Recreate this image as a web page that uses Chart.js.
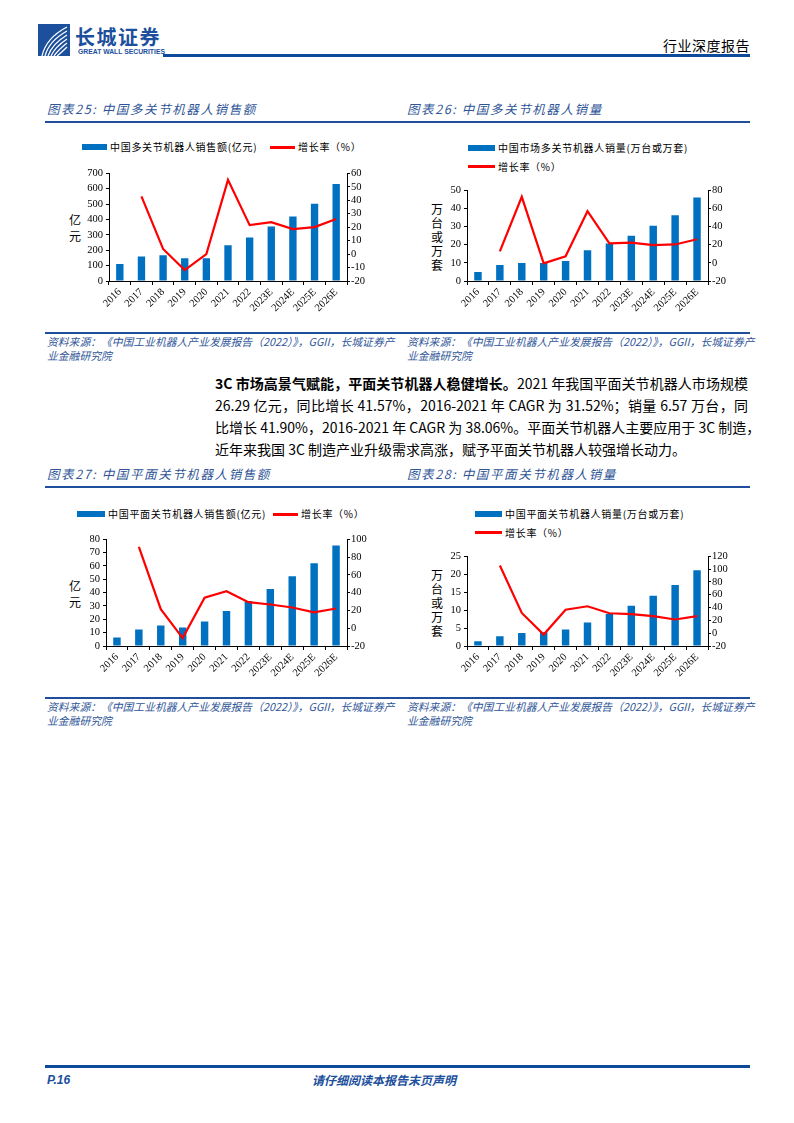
<!DOCTYPE html>
<html>
<head>
<meta charset="utf-8">
<script src="https://cdn.jsdelivr.net/npm/chart.js@4/dist/chart.umd.min.js"></script>
<style>
  html, body { margin:0; padding:0; background:#fff; }
  body { width:794px; height:1123px; position:relative; overflow:hidden;
         font-family:"Noto Sans CJK SC", "Noto Sans", sans-serif; color:#000; }
  .abs { position:absolute; white-space:nowrap; }
  .hline { position:absolute; background:#1F4E9C; }
  .title { position:absolute; font-size:12.5px; font-style:italic; color:#2F5597;
           letter-spacing:1.6px; line-height:16px; white-space:nowrap; }
  .src { position:absolute; font-size:10.8px; font-style:italic; color:#2F5597;
         line-height:14px; letter-spacing:0px; white-space:nowrap; }
  .lg { position:absolute; font-size:10px; letter-spacing:0.7px; line-height:12px; white-space:nowrap; }
  .sw-bar { position:absolute; height:6px; background:#0070C0; }
  .sw-line { position:absolute; height:2.5px; background:#FF0000; }
  .ytitle { position:absolute; font-size:12px; text-align:center; width:16px; }
  .para div { height:22px; line-height:22px; font-size:14px; text-align:justify; text-align-last:justify; white-space:nowrap; }
  .para div.last { text-align-last:left; }
  canvas { position:absolute; }
</style>
</head>
<body>

<!-- header -->
<svg class="abs" style="left:38px;top:24px" width="32" height="32" viewBox="0 0 32 32">
  <rect width="32" height="32" fill="#1C4F9C"/>
  <g fill="none" stroke="#fff" stroke-width="1.3">
    <path d="M4,32 Q8,14 29,3"/>
    <path d="M7,32 Q11,17 29,7"/>
    <path d="M10,32 Q14,20 29,11"/>
    <path d="M13,32 Q17,23 29,15"/>
    <path d="M16,32 Q20,26 29,19"/>
    <path d="M19,32 Q23,29 29,23"/>
  </g>
</svg>
<div class="abs" style="left:75px;top:25px;font-size:20px;font-weight:bold;color:#1C4F9C;letter-spacing:1.5px;line-height:24px">长城证券</div>
<div class="abs" style="left:78px;top:48px;font-family:'Liberation Sans',sans-serif;font-size:6.8px;font-weight:bold;color:#1C4F9C;line-height:8px">GREAT WALL SECURITIES</div>
<div class="hline" style="left:163px;top:54px;width:587px;height:3px;background:#0C4A9C"></div>
<div class="abs" style="right:44px;top:36px;font-size:14px;line-height:18px;letter-spacing:0.5px">行业深度报告</div>

<!-- top row titles -->
<div class="title" style="left:47px;top:101px">图表25: 中国多关节机器人销售额</div>
<div class="title" style="left:407px;top:101px">图表26: 中国多关节机器人销量</div>
<div class="hline" style="left:45px;top:121px;width:705px;height:1.5px"></div>

<!-- chart 1 legend -->
<div class="sw-bar" style="left:82px;top:144px;width:25px"></div>
<div class="lg" style="left:110px;top:141px">中国多关节机器人销售额(亿元)</div>
<div class="sw-line" style="left:270px;top:146px;width:25px"></div>
<div class="lg" style="left:298px;top:141px">增长率（%）</div>
<div class="ytitle" style="left:67px;top:212px;line-height:16px">亿<br>元</div>
<canvas id="c1"></canvas>

<!-- chart 2 legend -->
<div class="sw-bar" style="left:468px;top:145px;width:27px"></div>
<div class="lg" style="left:498px;top:142px">中国市场多关节机器人销量(万台或万套)</div>
<div class="sw-line" style="left:468px;top:165px;width:27px"></div>
<div class="lg" style="left:498px;top:161px">增长率（%）</div>
<div class="ytitle" style="left:429px;top:202px;line-height:14px">万<br>台<br>或<br>万<br>套</div>
<canvas id="c2"></canvas>

<div class="hline" style="left:45px;top:332px;width:705px;height:1.5px"></div>
<div class="src" style="left:47px;top:334px">资料来源：《中国工业机器人产业发展报告（2022）》，GGII，长城证券产<br>业金融研究院</div>
<div class="src" style="left:407px;top:334px">资料来源：《中国工业机器人产业发展报告（2022）》，GGII，长城证券产<br>业金融研究院</div>

<!-- paragraph -->
<div class="para abs" style="left:215px;top:372px;width:533px">
  <div><b>3C 市场高景气赋能，平面关节机器人稳健增长。</b>2021 年我国平面关节机器人市场规模</div>
  <div>26.29 亿元，同比增长 41.57%，2016-2021 年 CAGR 为 31.52%；销量 6.57 万台，同</div>
  <div>比增长 41.90%，2016-2021 年 CAGR 为 38.06%。平面关节机器人主要应用于 3C 制造，</div>
  <div class="last">近年来我国 3C 制造产业升级需求高涨，赋予平面关节机器人较强增长动力。</div>
</div>

<!-- bottom row titles -->
<div class="title" style="left:47px;top:466px">图表27: 中国平面关节机器人销售额</div>
<div class="title" style="left:407px;top:466px">图表28: 中国平面关节机器人销量</div>
<div class="hline" style="left:45px;top:486px;width:705px;height:1.5px"></div>

<!-- chart 3 legend -->
<div class="sw-bar" style="left:77px;top:511px;width:28px"></div>
<div class="lg" style="left:108px;top:508px">中国平面关节机器人销售额(亿元)</div>
<div class="sw-line" style="left:273px;top:513px;width:25px"></div>
<div class="lg" style="left:301px;top:508px">增长率（%）</div>
<div class="ytitle" style="left:67px;top:578px;line-height:16px">亿<br>元</div>
<canvas id="c3"></canvas>

<!-- chart 4 legend -->
<div class="sw-bar" style="left:475px;top:511px;width:27px"></div>
<div class="lg" style="left:505px;top:508px">中国平面关节机器人销量(万台或万套)</div>
<div class="sw-line" style="left:475px;top:531px;width:27px"></div>
<div class="lg" style="left:505px;top:527px">增长率（%）</div>
<div class="ytitle" style="left:429px;top:568px;line-height:14px">万<br>台<br>或<br>万<br>套</div>
<canvas id="c4"></canvas>

<div class="hline" style="left:45px;top:697px;width:705px;height:1.5px"></div>
<div class="src" style="left:47px;top:699px">资料来源：《中国工业机器人产业发展报告（2022）》，GGII，长城证券产<br>业金融研究院</div>
<div class="src" style="left:407px;top:699px">资料来源：《中国工业机器人产业发展报告（2022）》，GGII，长城证券产<br>业金融研究院</div>

<!-- footer -->
<div class="hline" style="left:45px;top:1065px;width:705px;height:3px;background:#0C4A9C"></div>
<div class="abs" style="left:47px;top:1072px;font-family:'Liberation Sans',sans-serif;font-size:12px;font-weight:bold;font-style:italic;color:#1C4F9C;line-height:16px">P.16</div>
<div class="abs" style="left:312px;top:1072px;font-size:12px;font-weight:bold;font-style:italic;color:#1C4F9C;line-height:16px">请仔细阅读本报告末页声明</div>

<script>
const years = ['2016','2017','2018','2019','2020','2021','2022','2023E','2024E','2025E','2026E'];

// 多关节 销售额 (亿元) / 增长率 (%)
const multiSales       = [110, 160, 167, 148, 148, 232, 283, 354, 419, 502, 631];
const multiSalesGrowth = [null, 42.8, 3.8, -11.9, 0, 55.1, 21.5, 23.7, 18.5, 20.0, 26.1];
// 多关节 销量 (万台或万套) / 增长率 (%)
const multiVolume       = [5.0, 8.8, 9.9, 9.9, 11.0, 16.9, 20.7, 25.0, 30.4, 36.3, 46.0];
const multiVolumeGrowth = [null, 12.7, 72.8, -0.6, 7.3, 57.0, 21.4, 22.4, 19.6, 20.3, 26.0];
// 平面关节 销售额 (亿元) / 增长率 (%)
const scaraSales       = [6.4, 12.3, 15.3, 13.8, 18.3, 26.3, 33.8, 42.7, 52.3, 62.0, 75.3];
const scaraSalesGrowth = [null, 91.5, 21.5, -11.1, 34.4, 41.6, 29.3, 26.7, 23.3, 17.8, 22.2];
// 平面关节 销量 (万台或万套) / 增长率 (%)
const scaraVolume       = [1.3, 2.7, 3.6, 3.8, 4.6, 6.57, 8.9, 11.2, 14.0, 17.0, 21.1];
const scaraVolumeGrowth = [null, 105.7, 31.6, -2.1, 36.7, 42.0, 31.1, 29.6, 26.5, 21.4, 26.5];

const tickFont = { family:"'Liberation Serif', 'Times New Roman', serif", size:10.5 };

function mkChart(id, box, bars, growth, left, right) {
  const cv = document.getElementById(id);
  cv.width = box.w; cv.height = box.h;
  cv.style.left = box.x + 'px'; cv.style.top = box.y + 'px';
  cv.style.width = box.w + 'px'; cv.style.height = box.h + 'px';

  const axisGrid = { drawOnChartArea:false, drawTicks:true, tickLength:3, color:'#000', lineWidth:1 };
  return new Chart(cv, {
    type: 'bar',
    data: { labels: years, datasets: [
      { type:'line', data: growth, yAxisID:'y1', borderColor:'#FF0000', borderWidth:2.2,
        pointRadius:0, tension:0, order:0 },
      { type:'bar', data: bars, yAxisID:'y', backgroundColor:'#0070C0',
        barPercentage:0.34, categoryPercentage:1, order:1 },
    ]},
    options: {
      responsive:false, animation:false, devicePixelRatio: window.devicePixelRatio || 1,
      layout: { padding:{ top:box.pt, left:0, right:0, bottom:0 } },
      plugins: { legend:{ display:false }, tooltip:{ enabled:false } },
      scales: {
        x: {
          grid: { ...axisGrid, offset:true, tickLength:4 },
          border: { color:'#000' },
          ticks: { minRotation:45, maxRotation:45, autoSkip:false, font:tickFont, color:'#000', padding:1 },
          afterFit: s => { s.height = box.xh; },
        },
        y: {
          position:'left', min:0, max:left.max,
          ticks: { stepSize:left.step, autoSkip:false, font:tickFont, color:'#000', padding:3 },
          grid: axisGrid, border: { color:'#000' },
          afterFit: s => { s.width = box.lw; },
        },
        y1: {
          position:'right', min:right.min, max:right.max,
          ticks: { stepSize:right.step, autoSkip:false, font:tickFont, color:'#000', padding:1 },
          grid: axisGrid, border: { color:'#000' },
          afterFit: s => { s.width = box.rw; },
        },
      },
    },
  });
}

mkChart('c1', { x:45, y:164, w:348, h:161, pt:8, lw:64, rw:46, xh:44 },
  multiSales, multiSalesGrowth, { max:700, step:100 }, { min:-20, max:60, step:10 });
mkChart('c2', { x:405, y:181, w:345, h:144, pt:8, lw:62, rw:42, xh:44 },
  multiVolume, multiVolumeGrowth, { max:50, step:10 }, { min:-20, max:80, step:20 });
mkChart('c3', { x:45, y:530, w:348, h:160, pt:8, lw:61, rw:46, xh:44 },
  scaraSales, scaraSalesGrowth, { max:80, step:10 }, { min:-20, max:100, step:20 });
mkChart('c4', { x:405, y:547, w:345, h:143, pt:8, lw:62, rw:42, xh:44 },
  scaraVolume, scaraVolumeGrowth, { max:25, step:5 }, { min:-20, max:120, step:20 });
</script>
</body>
</html>
